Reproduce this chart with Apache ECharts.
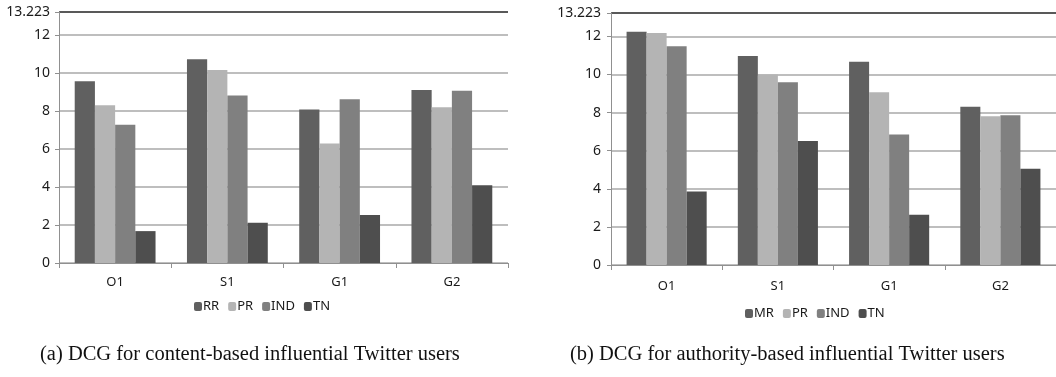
<!DOCTYPE html>
<html>
<head>
<meta charset="utf-8">
<script src="https://cdn.jsdelivr.net/npm/echarts@6/dist/echarts.min.js"></script>
<style>
html,body{margin:0;padding:0;background:#fff;}
#c{width:1056px;height:377px;}
</style>
</head>
<body>
<div id="c"></div>
<script>
const categories = ['O1', 'S1', 'G1', 'G2'];
const yMax = 13.223;

// (a) content-based
const aRR  = [9.57, 10.74, 8.08, 9.12];
const aPR  = [8.31, 10.17, 6.30, 8.21];
const aIND = [7.28, 8.82, 8.63, 9.07];
const aTN  = [1.68, 2.12, 2.53, 4.09];

// (b) authority-based
const bMR  = [12.24, 10.97, 10.66, 8.30];
const bPR  = [12.17, 9.99, 9.07, 7.81];
const bIND = [11.48, 9.59, 6.85, 7.86];
const bTN  = [3.86, 6.51, 2.64, 5.05];

const legendA = ['RR', 'PR', 'IND', 'TN'];
const legendB = ['MR', 'PR', 'IND', 'TN'];
const captionA = '(a) DCG for content-based influential Twitter users';
const captionB = '(b) DCG for authority-based influential Twitter users';

const colors = { RR: '#606060', MR: '#606060', PR: '#b4b4b4', IND: '#808080', TN: '#4e4e4e' };
const labelFont = 'Noto Sans';

function xAxis(gridIndex, margin) {
  return {
    type: 'category', gridIndex: gridIndex, data: categories,
    axisLine: { lineStyle: { color: '#909090', width: 1 } },
    axisTick: { show: true, length: 5, lineStyle: { color: '#909090' } },
    axisLabel: { color: '#1a1a1a', fontFamily: labelFont, fontSize: 13, margin: margin }
  };
}
function yAxis(gridIndex, margin) {
  return {
    type: 'value', gridIndex: gridIndex, min: 0, max: yMax, interval: 2,
    axisLine: { show: true, lineStyle: { color: '#909090' } },
    axisTick: { show: true, length: 4, lineStyle: { color: '#909090' } },
    axisLabel: { color: '#1a1a1a', fontFamily: labelFont, fontSize: 14, margin: margin,
      formatter: v => (Math.abs(v - yMax) < 1e-6 ? '13.223' : String(v)) },
    splitLine: { show: true, lineStyle: { color: ['#a8a8a8','#a8a8a8','#a8a8a8','#a8a8a8','#a8a8a8','#a8a8a8','#a8a8a8','#222'], width: 1.5 } }
  };
}
function bar(name, data, idx) {
  return {
    type: 'bar', name: name, data: data, xAxisIndex: idx, yAxisIndex: idx,
    barGap: '0%', barCategoryGap: '28%',
    itemStyle: { color: colors[name] }
  };
}

const chart = echarts.init(document.getElementById('c'));
chart.setOption({
  animation: false,
  backgroundColor: '#fff',
  grid: [
    { left: 59, top: 12, width: 449, height: 251 },
    { left: 611, top: 13, width: 449, height: 252 }
  ],
  xAxis: [xAxis(0, 13), xAxis(1, 15)],
  yAxis: [yAxis(0, 9), yAxis(1, 10)],
  legend: [
    { data: legendA, left: 189, top: 295, itemWidth: 8, itemHeight: 9, itemGap: 9,
      textStyle: { fontFamily: labelFont, fontSize: 13, color: '#1a1a1a', padding: [0, 0, 0, -4] } },
    { data: legendB, left: 740, top: 302, itemWidth: 8, itemHeight: 9, itemGap: 9,
      textStyle: { fontFamily: labelFont, fontSize: 13, color: '#1a1a1a', padding: [0, 0, 0, -4] } }
  ],
  graphic: [
    { type: 'text', left: 40, top: 344, style: { text: captionA, font: '20.5px "Liberation Serif"', fill: '#111' } },
    { type: 'text', left: 570, top: 344, style: { text: captionB, font: '20.5px "Liberation Serif"', fill: '#111' } }
  ],
  series: [
    bar('RR', aRR, 0), bar('PR', aPR, 0), bar('IND', aIND, 0), bar('TN', aTN, 0),
    bar('MR', bMR, 1), bar('PR', bPR, 1), bar('IND', bIND, 1), bar('TN', bTN, 1)
  ]
});
</script>
</body>
</html>
